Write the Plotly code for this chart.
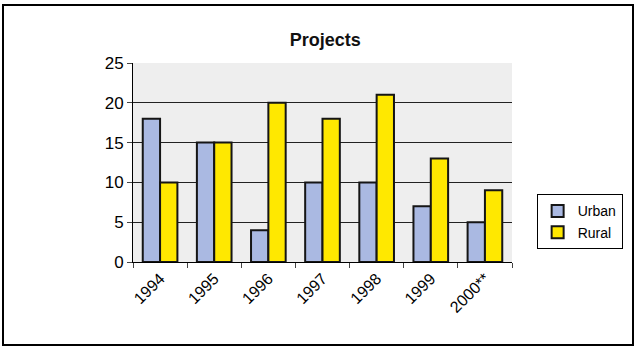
import plotly.graph_objects as go

years = ["1994", "1995", "1996", "1997", "1998", "1999", "2000**"]
urban = [18, 15, 4, 10, 10, 7, 5]
rural = [10, 15, 20, 18, 21, 13, 9]
y_ticks = [0, 5, 10, 15, 20, 25]

fig = go.Figure()
fig.add_trace(go.Bar(name="Urban", x=years, y=urban,
                     marker=dict(color="#aab9e2", line=dict(color="#151515", width=2))))
fig.add_trace(go.Bar(name="Rural", x=years, y=rural,
                     marker=dict(color="#ffe800", line=dict(color="#151515", width=2))))

fig.update_layout(
    width=642, height=353,
    margin=dict(l=133, r=130, t=63, b=91),
    paper_bgcolor="white",
    plot_bgcolor="#eeeeee",
    barmode="group", bargap=0.36, bargroupgap=0.0,
    font=dict(family="Arial, Liberation Sans, sans-serif", color="black"),
    title=dict(text="<b>Projects</b>", x=0.507, xref="paper", y=1 - 40 / 353,
               yref="container", xanchor="center", yanchor="middle",
               font=dict(size=18, color="#111")),
    legend=dict(x=1.065, y=0.34, xanchor="left", yanchor="top",
                bordercolor="black", borderwidth=1, bgcolor="white",
                font=dict(size=14), itemwidth=30, tracegroupgap=6),
    showlegend=True,
)
fig.update_yaxes(range=[0, 25], tickvals=y_ticks, ticks="outside", ticklen=5,
                 tickfont=dict(size=17), showline=True, linecolor="black",
                 gridcolor="#222", gridwidth=1, zeroline=False)
fig.update_xaxes(tickangle=-45, tickfont=dict(size=16), showline=True,
                 linecolor="black", ticks="outside", ticklen=5,
                 tickson="boundaries")
fig.add_shape(type="rect", xref="paper", yref="paper",
              x0=(3 - 133) / 379, x1=(633 - 133) / 379,
              y0=(262 - 345) / 199, y1=(262 - 5) / 199,
              line=dict(color="black", width=2), fillcolor="rgba(0,0,0,0)")
fig.write_html("out.html")
